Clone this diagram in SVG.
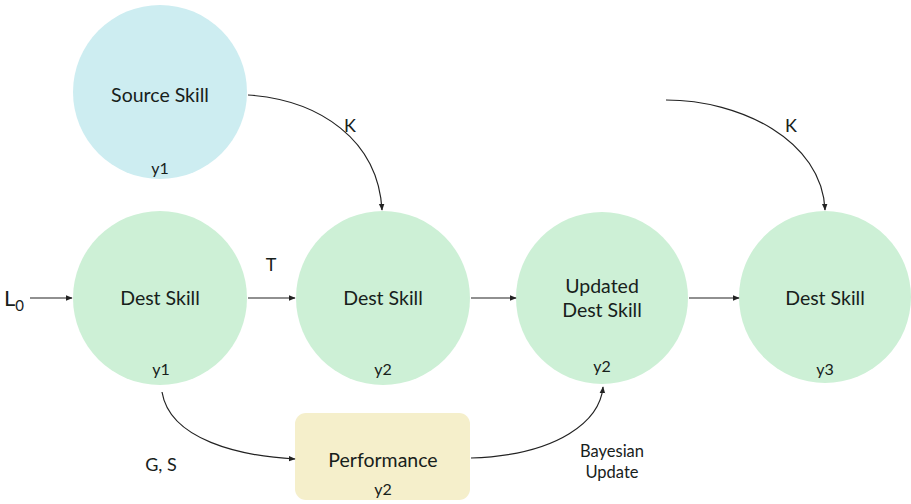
<svg xmlns="http://www.w3.org/2000/svg" width="911" height="504" viewBox="0 0 911 504">
<style>
text{font-family:Lato,"Open Sans","Liberation Sans",sans-serif;fill:#17211b;text-anchor:middle}
.t{font-size:19.5px}
.s{font-size:16px}
.lab{font-size:18px}
.b{font-size:16.5px}
.g{fill:#cdf0d6}
.c{stroke:#222;stroke-width:1.2;fill:none;marker-end:url(#ah)}
</style>
<defs>
<marker id="ah" viewBox="0 0 10 10" refX="9" refY="5" markerWidth="7" markerHeight="7" orient="auto" markerUnits="userSpaceOnUse"><path d="M0,1 L10,5 L0,9 z" fill="#222"/></marker>
</defs>
<rect width="911" height="504" fill="#fff"/>
<g id="source">
<circle cx="160" cy="92" r="87" fill="#cdedf1"/>
<text class="t" x="160" y="102">Source Skill</text>
<text class="s" x="160" y="174">y1</text>
</g>
<g id="dest1">
<circle class="g" cx="160" cy="298" r="87"/>
<text class="t" x="160" y="305">Dest Skill</text>
<text class="s" x="161" y="375">y1</text>
</g>
<g id="dest2">
<circle class="g" cx="383" cy="298" r="87"/>
<text class="t" x="383" y="305">Dest Skill</text>
<text class="s" x="383" y="375">y2</text>
</g>
<g id="updated">
<circle class="g" cx="602" cy="298" r="86"/>
<text class="t" x="602" y="293">Updated</text>
<text class="t" x="602" y="317">Dest Skill</text>
<text class="s" x="602" y="372">y2</text>
</g>
<g id="dest3">
<circle class="g" cx="825" cy="297" r="86"/>
<text class="t" x="825" y="305">Dest Skill</text>
<text class="s" x="825" y="375">y3</text>
</g>
<g id="performance">
<rect x="295" y="413" width="175" height="87" rx="11" fill="#f5efcb"/>
<text class="t" x="383" y="467">Performance</text>
<text class="s" x="383" y="495">y2</text>
</g>
<g id="connectors">
<path class="c" d="M30,298 H72"/>
<path class="c" d="M248,298 H295"/>
<path class="c" d="M471,298 H516"/>
<path class="c" d="M689,298 H739"/>
<path class="c" d="M248,95 C320,100 378,140 382,210"/>
<path class="c" d="M666,100 C740,100 822,140 825,210"/>
<path class="c" d="M162,392 C170,440 240,456 295,459"/>
<path class="c" d="M471,458 C560,455 600,420 603,387"/>
</g>
<g id="labels">
<text x="14" y="306" style="font-size:22px">L<tspan style="font-size:15px" dy="5">0</tspan></text>
<text class="lab" x="271" y="271">T</text>
<text class="lab" x="350" y="132">K</text>
<text class="lab" x="791" y="132">K</text>
<text class="lab" x="161" y="471">G, S</text>
<text class="b" x="612" y="457">Bayesian</text>
<text class="b" x="612" y="478">Update</text>
</g>
</svg>
